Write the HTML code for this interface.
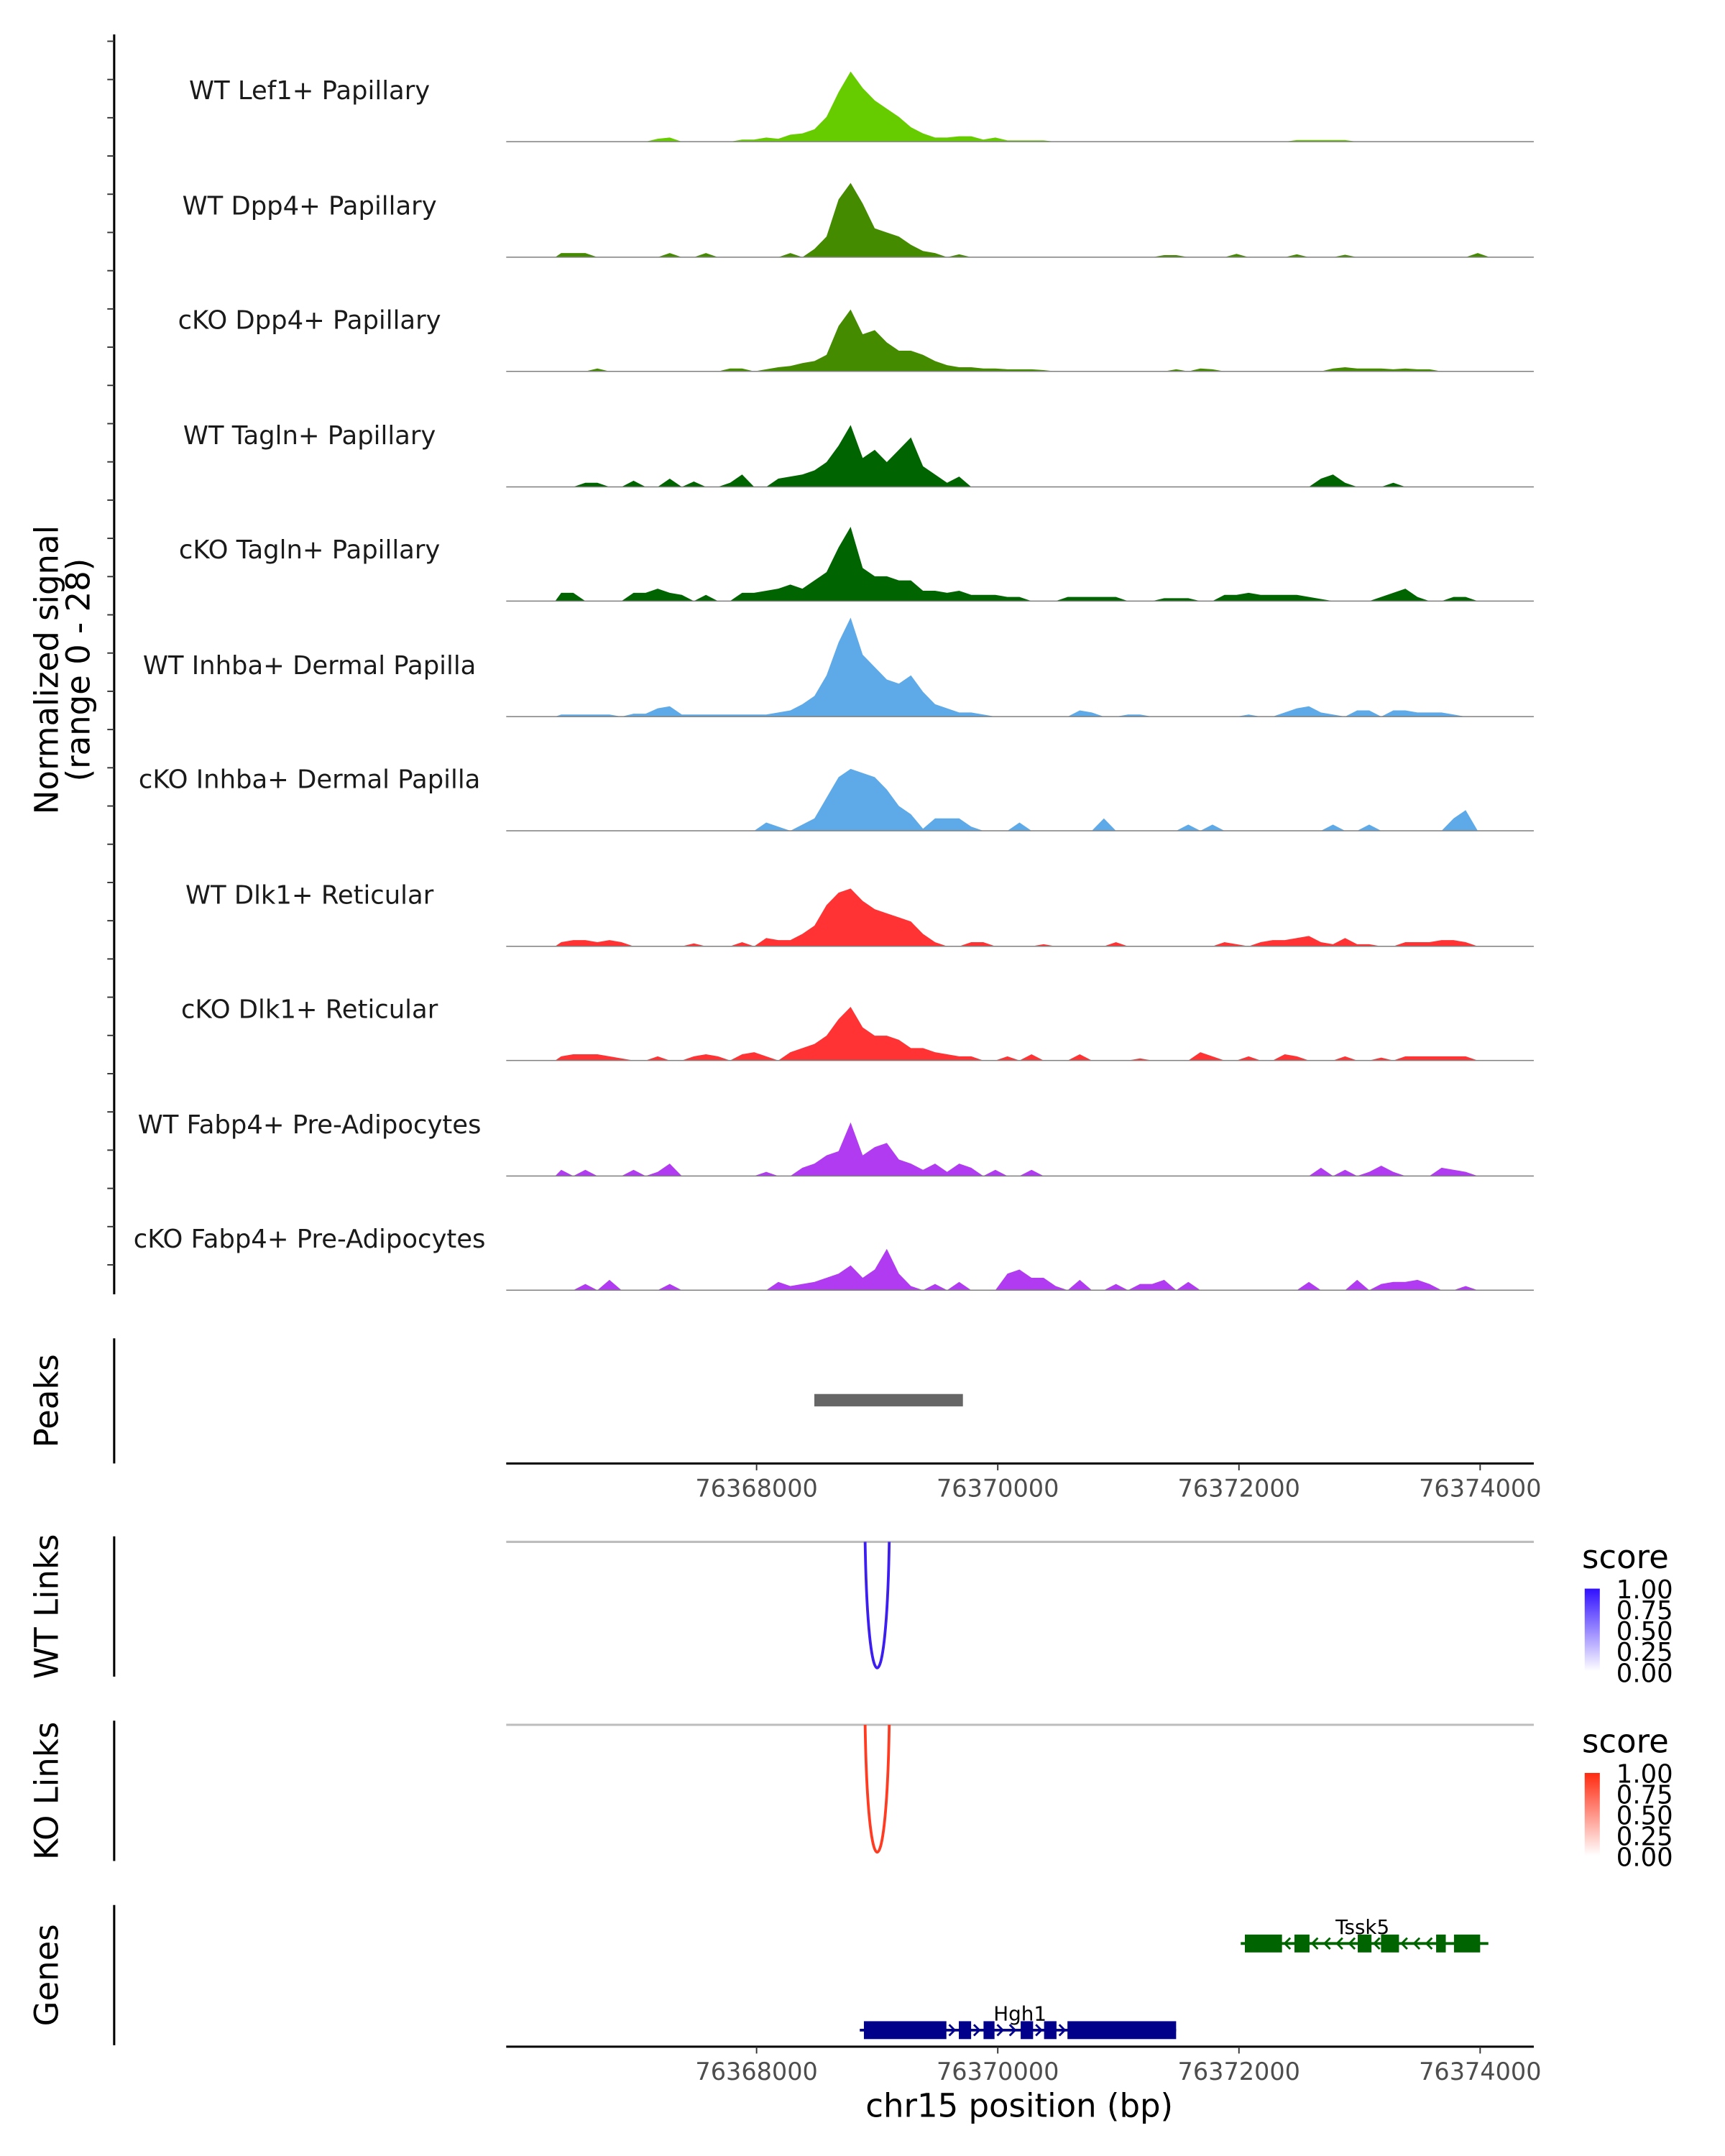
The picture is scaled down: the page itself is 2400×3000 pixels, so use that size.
<!DOCTYPE html>
<html><head><meta charset="utf-8">
<style>
html,body{margin:0;padding:0;background:#fff;}
svg{display:block;font-family:"DejaVu Sans","Liberation Sans",sans-serif;}
</style></head>
<body>
<svg id="chart" xmlns="http://www.w3.org/2000/svg" width="2400" height="3000" viewBox="0 0 1254 1567.5" preserveAspectRatio="none"></svg>
<script>
// ---- data ----
const binStart = 76366330;
const binSize = 100;
const trackNames = ["WT Lef1+ Papillary","WT Dpp4+ Papillary","cKO Dpp4+ Papillary","WT Tagln+ Papillary","cKO Tagln+ Papillary","WT Inhba+ Dermal Papilla","cKO Inhba+ Dermal Papilla","WT Dlk1+ Reticular","cKO Dlk1+ Reticular","WT Fabp4+ Pre-Adipocytes","cKO Fabp4+ Pre-Adipocytes"];
const trackColors = ["#66cc00","#448b00","#448b00","#006400","#006400","#5eaae8","#5eaae8","#ff3333","#ff3333","#b03bf0","#b03bf0"];
const sparse0 = {8:0.7,9:1,15:0.5,16:0.5,17:1,18:0.7,19:1.7,20:2,21:3,22:6,23:12,24:17,25:13,26:10,27:8,28:6,29:3.5,30:2,31:1,32:1,33:1.3,34:1.3,35:0.5,36:1,37:0.3,38:0.3,39:0.3,40:0.3,61:0.4,62:0.4,63:0.4,64:0.4,65:0.4};
const sparse1 = {0:1,1:1,2:1,9:1,12:1,19:1,21:2,22:5,23:14,24:18,25:13,26:7,27:6,28:5,29:3,30:1.5,31:1,33:0.7,50:0.5,51:0.5,56:0.8,61:0.7,65:0.6,76:1};
const sparse2 = {3:0.7,14:0.7,15:0.7,17:0.5,18:1,19:1.3,20:2,21:2.5,22:4,23:11,24:15,25:9,26:10,27:7,28:5,29:5,30:4,31:2.5,32:1.5,33:1,34:1,35:0.7,36:0.7,37:0.5,38:0.5,39:0.5,40:0.3,51:0.5,53:0.7,54:0.5,64:0.7,65:1,66:0.7,67:0.7,68:0.7,69:0.5,70:0.7,71:0.5,72:0.5};
const sparse3 = {2:1,3:1,6:1.5,9:2,11:1.3,14:1,15:3,18:2,19:2.5,20:3,21:4,22:6,23:10,24:15,25:7,26:9,27:6,28:9,29:12,30:5,31:3,32:1,33:2.5,63:2,64:3,65:1,69:1};
const sparse4 = {0:2,1:2,6:2,7:2,8:3,9:2,10:1.5,12:1.5,15:2,16:2,17:2.5,18:3,19:4,20:3,21:5,22:7,23:13,24:18,25:8,26:6,27:6,28:5,29:5,30:2.5,31:2.5,32:2,33:2.5,34:1.5,35:1.5,36:1.5,37:1,38:1,42:1,43:1,44:1,45:1,46:1,50:0.7,51:0.7,52:0.7,55:1.5,56:1.5,57:2,58:1.5,59:1.5,60:1.5,61:1.5,62:1,63:0.5,68:1,69:2,70:3,71:1,74:1,75:1};
const sparse5 = {0:0.5,1:0.5,2:0.5,3:0.5,4:0.5,6:0.7,7:0.7,8:2,9:2.5,10:0.5,11:0.5,12:0.5,13:0.5,14:0.5,15:0.5,16:0.5,17:0.5,18:1,19:1.5,20:3,21:5,22:10,23:18,24:24,25:15,26:12,27:9,28:8,29:10,30:6,31:3,32:2,33:1,34:1,35:0.5,43:1.5,44:1,47:0.5,48:0.5,57:0.5,60:1,61:2,62:2.5,63:1,64:0.5,66:1.5,67:1.5,69:1.5,70:1.5,71:1,72:1,73:1,74:0.5};
const sparse6 = {17:2,18:1,20:1.5,21:3,22:8,23:13,24:15,25:14,26:13,27:10,28:6,29:4,30:0.5,31:3,32:3,33:3,34:1,38:2,45:3,52:1.5,54:1.5,64:1.5,67:1.5,74:3,75:5};
const sparse7 = {0:1,1:1.5,2:1.5,3:1,4:1.5,5:1,11:0.7,15:1,17:2,18:1.5,19:1.5,20:3,21:5,22:10,23:13,24:14,25:11,26:9,27:8,28:7,29:6,30:3,31:1,34:1,35:1,40:0.5,46:1,55:1,56:0.5,58:1,59:1.5,60:1.5,61:2,62:2.5,63:1,64:0.5,65:2,66:0.5,67:0.5,70:1,71:1,72:1,73:1.5,74:1.5,75:1};
const sparse8 = {0:1,1:1.5,2:1.5,3:1.5,4:1,5:0.5,8:1,11:1,12:1.5,13:1,15:1.5,16:2,17:1,19:2,20:3,21:4,22:6,23:10,24:13,25:8,26:6,27:6,28:5,29:3,30:3,31:2,32:1.5,33:1,34:1,37:1,39:1.5,43:1.5,48:0.5,53:2,54:1,57:1,60:1.5,61:1,65:1,68:0.7,70:1,71:1,72:1,73:1,74:1,75:1};
const sparse9 = {0:1.5,2:1.5,6:1.5,8:1,9:3,17:1,20:2,21:3,22:5,23:6,24:13,25:5,26:7,27:8,28:4,29:3,30:1.5,31:3,32:1,33:3,34:2,36:1.5,39:1.5,63:2,65:1.5,67:1,68:2.5,69:1,73:2,74:1.5,75:1};
const sparse10 = {2:1.5,4:2.5,9:1.5,18:2,19:1,20:1.5,21:2,22:3,23:4,24:6,25:3,26:5,27:10,28:4,29:1,31:1.5,33:2,37:4,38:5,39:3,40:3,41:1,43:2.5,46:1.5,48:1.5,49:1.5,50:2.5,52:2,62:2,66:2.5,68:1.5,69:2,70:2,71:2.5,72:1.5,75:1};
const trackSparse = [sparse0,sparse1,sparse2,sparse3,sparse4,sparse5,sparse6,sparse7,sparse8,sparse9,sparse10];
const nBins = 78;
const xTicks = [76368000,76370000,76372000,76374000];
const peakRanges = [[76368479,76369711]];
const linkPairs = [[76368900,76369100,0.95]];
const hgh1Exons = [[76368890,76369574],[76369677,76369779],[76369882,76369973],[76370190,76370293],[76370384,76370487],[76370578,76371479]];
const tssk5Exons = [[76372049,76372357],[76372460,76372585],[76372985,76373099],[76373178,76373327],[76373635,76373715],[76373783,76374000]];
const legendTicks = ["1.00","0.75","0.50","0.25","0.00"];

// ---- scales ----
const svg = document.getElementById('chart');
const NS = "http://www.w3.org/2000/svg";
const X0 = 550, PXBP = 526/6000;
function xs(bp){ return X0 + (bp-76368000)*PXBP; }
const yMax = 28, trackH = 84;
function ys(base,v){ return base - v/yMax*trackH; }
function mk(tag, attrs, parent){ const e=document.createElementNS(NS,tag); for(const k in attrs) e.setAttribute(k,attrs[k]); (parent||svg).appendChild(e); return e; }
function txt(s, attrs, parent){ const e=mk('text',attrs,parent); e.textContent=s; return e; }

// ---- signal tracks ----
const bases = [103,187,270,354,437,521,604,688,771,855,938];
trackNames.forEach((name,t)=>{
  const g = mk('g',{});
  
  
  const base = bases[t];
  const vals = [];
  for(let i=0;i<nBins;i++) vals.push(trackSparse[t][i]||0);
  let d = `M${xs(binStart)} ${base}`;
  vals.forEach((v,i)=>{ d += ` L${xs(binStart+binSize*(i+0.5)).toFixed(2)} ${ys(base,v).toFixed(2)}`; });
  d += ` L${xs(binStart+binSize*nBins)} ${base} Z`;
  const area = mk('path',{d:d,fill:trackColors[t],stroke:'none'},g);
  
  
  const bl = mk('line',{x1:368,x2:1115,y1:base,y2:base,stroke:'#7f7f7f','stroke-width':0.8},g);
  
  
  const lb = txt(name,{x:225,y:base-31,'text-anchor':'middle','font-size':18.5,fill:'#1a1a1a'},g);
  
  
});

// left axis with ticks
const ax = mk('line',{x1:83,x2:83,y1:25,y2:941,stroke:'#000','stroke-width':1.6});


for(let y=25+5;y<941;y+=27.8){
  const tk = mk('line',{x1:78,x2:83,y1:y,y2:y,stroke:'#333','stroke-width':1});
  
  
}
const yt = mk('text',{transform:'translate(42,487) rotate(-90)','text-anchor':'middle','font-size':23.5,fill:'#000'});


yt.innerHTML = '<tspan x="0" dy="0">Normalized signal</tspan><tspan x="0" dy="23">(range 0 - 28)</tspan>';

// side axis helper
function sideAxis(y1,y2,label,name){
  const l = mk('line',{x1:83,x2:83,y1:y1,y2:y2,stroke:'#000','stroke-width':1.6});
  
  
  const t = txt(label,{transform:`translate(42,${(y1+y2)/2}) rotate(-90)`,'text-anchor':'middle','font-size':23.5,fill:'#000'});
  
  
}
sideAxis(973,1064,'Peaks','peaks');
sideAxis(1117,1219,'WT Links','wt-links');
sideAxis(1251,1353,'KO Links','ko-links');
sideAxis(1385,1487,'Genes','genes');

// peaks
peakRanges.forEach(p=>{
  const r = mk('rect',{x:xs(p[0]),y:1013.5,width:xs(p[1])-xs(p[0]),height:9,fill:'#666'});
  
  
});

// x axes
function xAxis(y,name){
  const l = mk('line',{x1:368,x2:1115,y1:y,y2:y,stroke:'#000','stroke-width':1.6});
  
  
  xTicks.forEach(v=>{
    const tk = mk('line',{x1:xs(v),x2:xs(v),y1:y,y2:y+5,stroke:'#333','stroke-width':1});
    
    
    const tl = txt(String(v),{x:xs(v),y:y+24,'text-anchor':'middle','font-size':17.5,fill:'#4d4d4d'});
    
    
  });
}
xAxis(1064,'peaks-x-axis');
xAxis(1488,'genes-x-axis');
const xt = txt('chr15 position (bp)',{x:741,y:1539,'text-anchor':'middle','font-size':23.5,fill:'#000'});



// links
function links(top,bottom,color,name){
  const l = mk('line',{x1:368,x2:1115,y1:top,y2:top,stroke:'#bdbdbd','stroke-width':1.6});
  
  
  linkPairs.forEach(p=>{
    const a=xs(p[0]), b=xs(p[1]), depth=(bottom-top)*p[2]/0.95;
    const path = mk('path',{d:`M${a} ${top} C${a+2} ${top+depth*1.3} ${b-2} ${top+depth*1.3} ${b} ${top}`,fill:'none',stroke:color,'stroke-width':2});
    
    
  });
}
links(1121,1215,'#3d1ef0','wt-link');
links(1254,1349,'#ff3b22','ko-link');

// legends
function legend(y,color,id,name){
  const g = mk('g',{});
  
  
  const defs = mk('defs',{},g);
  const lg = mk('linearGradient',{id:id,x1:0,y1:1,x2:0,y2:0},defs);
  mk('stop',{offset:0,'stop-color':'#fff'},lg);
  mk('stop',{offset:1,'stop-color':color},lg);
  txt('score',{x:1150,y:y,'font-size':23.5,fill:'#000'},g);
  mk('rect',{x:1152,y:y+15,width:11,height:60,fill:`url(#${id})`},g);
  legendTicks.forEach((s,i)=>{
    txt(s,{x:1175,y:y+22+i*15.2,'font-size':18.5,fill:'#000'},g);
  });
}
legend(1140,'#3010ff','gw','wt-score-legend');
legend(1274,'#ff2a10','gk','ko-score-legend');

// genes
function gene(exons,y,color,label,dir,lineEnd,name){
  const g = mk('g',{});
  
  
  const s = xs(exons[0][0]), e = xs(lineEnd);
  mk('line',{x1:s-3,x2:e,y1:y,y2:y,stroke:color,'stroke-width':2},g);
  exons.forEach(ex=>{
    mk('rect',{x:xs(ex[0]),y:y-6.5,width:xs(ex[1])-xs(ex[0]),height:13,fill:color},g);
  });
  for(let i=0;i<exons.length-1;i++){
    const a=xs(exons[i][1]), b=xs(exons[i+1][0]);
    for(let x=a+4;x<b-2;x+=9){
      const d = dir>0?`M${x-2} ${y-4} L${x+2} ${y} L${x-2} ${y+4}`:`M${x+2} ${y-4} L${x-2} ${y} L${x+2} ${y+4}`;
      mk('path',{d:d,fill:'none',stroke:color,'stroke-width':1.5},g);
    }
  }
  const m = (xs(exons[0][0])+xs(exons[exons.length-1][1]))/2;
  txt(label,{x:m,y:y-7,'text-anchor':'middle','font-size':14.5,fill:'#000'},g);
}
gene(hgh1Exons,1476,'#00008b','Hgh1',1,76371479,'gene-hgh1');
gene(tssk5Exons,1413,'#006400','Tssk5',-1,76374068,'gene-tssk5');
</script>
</body></html>
